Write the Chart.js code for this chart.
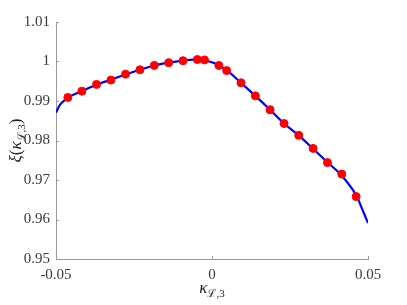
<!DOCTYPE html>
<html>
<head>
<meta charset="utf-8">
<script src="https://cdn.jsdelivr.net/npm/chart.js@4"></script>
<style>
  body { margin: 0; background: #fff; }
  #wrap { width: 407px; height: 305px; }
</style>
</head>
<body>
<div id="wrap"><canvas id="chart"></canvas></div>
<script>
// fitted curve
const curveX = [-0.0500, -0.0487, -0.0474, -0.0462, -0.0417, -0.0370, -0.0324, -0.0277, -0.0231, -0.0185,
                -0.0139, -0.0093, -0.0060, -0.0026, 0.0000, 0.0022, 0.0047, 0.0093, 0.0139, 0.0186,
                0.0231, 0.0278, 0.0324, 0.0370, 0.0416, 0.0463, 0.0481, 0.0500];
const curveY = [0.9871, 0.9891, 0.9901, 0.9909, 0.9925, 0.9941, 0.9954, 0.9967, 0.9979, 0.9990,
                0.9997, 1.0002, 1.0005, 1.0003, 0.9998, 0.9990, 0.9978, 0.9946, 0.9913, 0.9878,
                0.9843, 0.9813, 0.9779, 0.9745, 0.9711, 0.9660, 0.9627, 0.9591];

// red sample points
const dotX = [-0.0462, -0.0417, -0.0370, -0.0324, -0.0277, -0.0231, -0.0185, -0.0139, -0.0093, -0.0047,
              -0.0024, 0.0022, 0.0047, 0.0093, 0.0139, 0.0186, 0.0231, 0.0278, 0.0324, 0.0370,
              0.0416, 0.0462];
const dotY = [0.9909, 0.9925, 0.9942, 0.9953, 0.9968, 0.9979, 0.9990, 0.9997, 1.0002, 1.0005,
              1.0004, 0.9990, 0.9977, 0.9946, 0.9913, 0.9878, 0.9843, 0.9813, 0.9780, 0.9744,
              0.9715, 0.9658];

const xTicks = [-0.05, 0, 0.05];
const yTicks = [0.95, 0.96, 0.97, 0.98, 0.99, 1.00, 1.01];

const curvePts = curveX.map((x, i) => ({ x: x, y: curveY[i] }));
const dotPts = dotX.map((x, i) => ({ x: x, y: dotY[i] }));

Chart.defaults.font.family = '"Liberation Serif", serif';
Chart.defaults.font.size = 15;
Chart.defaults.color = '#3a3a3a';

// draws a label made of pieces, some italic, some subscript
function drawPieces(ctx, pieces, cx, cy) {
  const fontOf = p => (p.it ? 'italic ' : '') + (p.sub ? '11px' : '17px') + ' "Liberation Serif", serif';
  let w = 0;
  pieces.forEach(p => { ctx.font = fontOf(p); w += ctx.measureText(p.t).width; });
  let x = cx - w / 2;
  ctx.textBaseline = 'alphabetic';
  ctx.textAlign = 'left';
  pieces.forEach(p => {
    ctx.font = fontOf(p);
    ctx.fillText(p.t, x, cy + (p.sub ? 4 : 0));
    x += ctx.measureText(p.t).width;
  });
}

const axisExtras = {
  id: 'axisExtras',
  afterDraw(chart) {
    const ctx = chart.ctx;
    const xs = chart.scales.x, ys = chart.scales.y;
    const a = chart.chartArea;
    ctx.save();
    // inward tick marks
    ctx.strokeStyle = '#999';
    ctx.lineWidth = 1;
    ctx.beginPath();
    xTicks.forEach(v => {
      const px = Math.round(xs.getPixelForValue(v)) + 0.5;
      ctx.moveTo(px, a.bottom); ctx.lineTo(px, a.bottom - 3);
    });
    yTicks.forEach(v => {
      const py = Math.round(ys.getPixelForValue(v)) + 0.5;
      ctx.moveTo(a.left, py); ctx.lineTo(a.left + 3, py);
    });
    ctx.stroke();

    // axis titles
    ctx.fillStyle = '#222';
    drawPieces(ctx, [{ t: 'κ', it: true }, { t: 'ℒ,3', sub: true }], (a.left + a.right) / 2, 293);
    ctx.translate(21, (a.top + a.bottom) / 2);
    ctx.rotate(-Math.PI / 2);
    drawPieces(ctx, [{ t: 'ξ', it: true }, { t: '(' }, { t: 'κ', it: true },
                     { t: 'ℒ,3', sub: true }, { t: ')' }], 0, 0);
    ctx.restore();
  }
};

new Chart(document.getElementById('chart'), {
  type: 'scatter',
  data: {
    datasets: [
      {
        data: curvePts,
        showLine: true,
        borderColor: '#0000ff',
        borderWidth: 2.2,
        pointRadius: 0,
        cubicInterpolationMode: 'monotone',
        order: 2
      },
      {
        data: dotPts,
        showLine: false,
        backgroundColor: '#ff0000',
        borderColor: '#ff0000',
        pointRadius: 4,
        order: 1
      }
    ]
  },
  options: {
    responsive: true,
    maintainAspectRatio: false,
    animation: false,
    layout: { padding: { top: 22, right: 39, left: 0, bottom: 0 } },
    plugins: { legend: { display: false }, tooltip: { enabled: false } },
    scales: {
      x: {
        type: 'linear',
        min: -0.05, max: 0.05,
        afterBuildTicks: s => { s.ticks = xTicks.map(v => ({ value: v })); },
        afterFit: s => { s.height = 46; },
        grid: { display: false, drawTicks: false },
        border: { display: true, color: '#999', width: 1 },
        ticks: { padding: 7, maxRotation: 0, callback: v => String(Number(v.toFixed(2))) }
      },
      y: {
        type: 'linear',
        min: 0.95, max: 1.01,
        afterBuildTicks: s => { s.ticks = yTicks.map(v => ({ value: v })); },
        afterFit: s => { s.width = 56; },
        grid: { display: false, drawTicks: false },
        border: { display: true, color: '#999', width: 1 },
        ticks: { padding: 6, callback: v => String(Number(v.toFixed(2))) }
      }
    }
  },
  plugins: [axisExtras]
});
</script>
</body>
</html>
